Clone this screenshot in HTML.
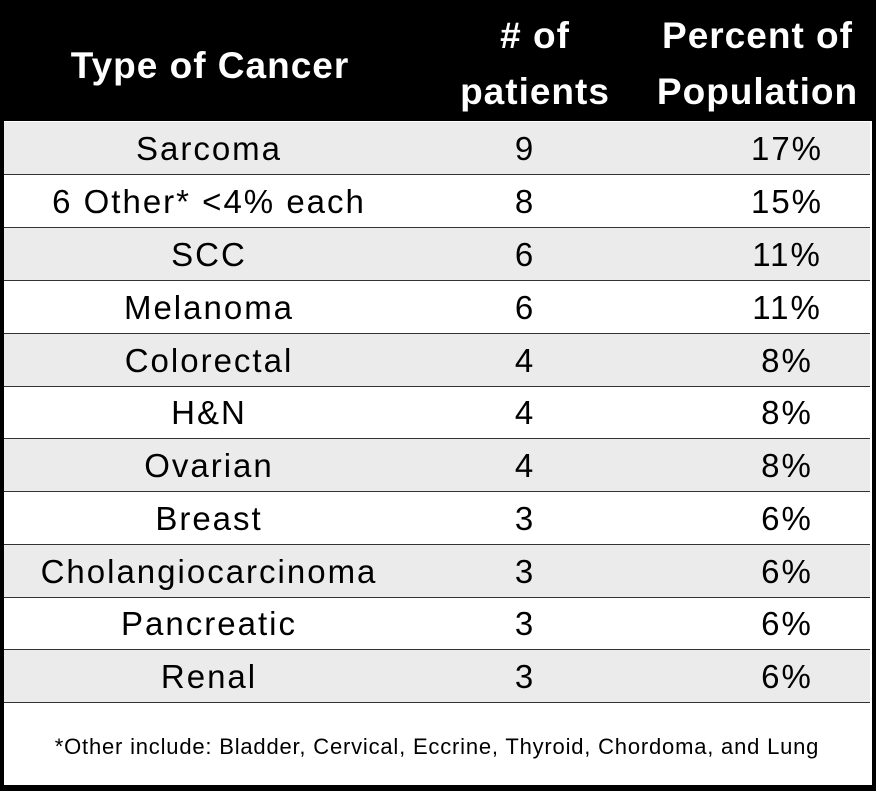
<!DOCTYPE html>
<html><head><style>
body{margin:0;background:#fff;width:876px;height:804px;position:relative;font-family:"Liberation Sans",sans-serif;overflow:hidden}
.frame{position:absolute;left:0;top:0;width:868px;height:785px;border:4px solid #000;border-top:0;border-right-width:6px;border-bottom-width:6px}
.hdr{position:absolute;left:0;top:0;width:876px;height:121px;background:#000;color:#fff;font-weight:bold;font-size:37px;letter-spacing:1px}
.hdr div{position:absolute;text-align:center;line-height:44px}
.row{position:absolute;left:4px;width:866px;height:52px;border-bottom:1.5px solid #333;font-size:33px;letter-spacing:2px;color:#000}
.row div{position:absolute;top:0;line-height:53px;text-align:center;transform:translateX(-50%);white-space:nowrap}
.g{background:#ebebeb}
.foot{position:absolute;left:4px;top:704px;width:866px;height:81px;font-size:22px;letter-spacing:0.8px;text-align:center;line-height:86px;white-space:nowrap}
</style></head><body>
<div class="frame"></div>
<div class="hdr">
<div style="left:30px;width:360px;top:44px">Type of Cancer</div>
<div style="left:445px;width:180px;top:14px">#&nbsp;of</div>
<div style="left:445px;width:180px;top:70px">patients</div>
<div style="left:630px;width:255px;top:14px">Percent of</div>
<div style="left:630px;width:255px;top:70px">Population</div>
</div>
<div class="row g" style="top:122px"><div style="left:205px">Sarcoma</div><div style="left:521px">9</div><div style="left:783px">17%</div></div>
<div class="row" style="top:175px"><div style="left:205px">6 Other* &lt;4% each</div><div style="left:521px">8</div><div style="left:783px">15%</div></div>
<div class="row g" style="top:228px"><div style="left:205px">SCC</div><div style="left:521px">6</div><div style="left:783px">11%</div></div>
<div class="row" style="top:281px"><div style="left:205px">Melanoma</div><div style="left:521px">6</div><div style="left:783px">11%</div></div>
<div class="row g" style="top:334px"><div style="left:205px">Colorectal</div><div style="left:521px">4</div><div style="left:783px">8%</div></div>
<div class="row" style="top:386px"><div style="left:205px">H&amp;N</div><div style="left:521px">4</div><div style="left:783px">8%</div></div>
<div class="row g" style="top:439px"><div style="left:205px">Ovarian</div><div style="left:521px">4</div><div style="left:783px">8%</div></div>
<div class="row" style="top:492px"><div style="left:205px">Breast</div><div style="left:521px">3</div><div style="left:783px">6%</div></div>
<div class="row g" style="top:545px"><div style="left:205px">Cholangiocarcinoma</div><div style="left:521px">3</div><div style="left:783px">6%</div></div>
<div class="row" style="top:597px"><div style="left:205px">Pancreatic</div><div style="left:521px">3</div><div style="left:783px">6%</div></div>
<div class="row g" style="top:650px"><div style="left:205px">Renal</div><div style="left:521px">3</div><div style="left:783px">6%</div></div>
<div class="foot">*Other include: Bladder, Cervical, Eccrine, Thyroid, Chordoma, and Lung</div>
</body></html>
